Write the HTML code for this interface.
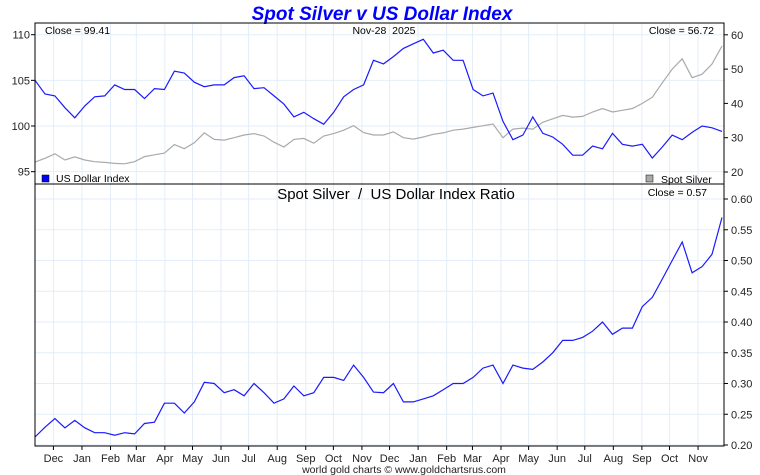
<!DOCTYPE html>
<html><head><meta charset="utf-8"><style>
body{margin:0;background:#fff;}
svg{display:block;font-family:"Liberation Sans",sans-serif;}
text{white-space:pre;}
</style></head><body>
<svg id="chart" width="760" height="475" viewBox="0 0 760 475">
<rect x="0" y="0" width="760" height="475" fill="#fff"/>
<text x="382" y="20" text-anchor="middle" font-size="19" font-weight="bold" font-style="italic" fill="#0000ff">Spot Silver v US Dollar Index</text>
<g id="grid"></g>
<g id="series"></g>
<rect x="35" y="23" width="689" height="161" fill="none" stroke="#000" stroke-width="1"/>
<rect x="35" y="184" width="689" height="262" fill="none" stroke="#000" stroke-width="1"/>
<g id="axes" font-size="11" fill="#222"></g>
<text x="45" y="34" font-size="10.5">Close = 99.41</text>
<text x="384" y="34" font-size="10.5" text-anchor="middle" xml:space="preserve">Nov-28  2025</text>
<text x="714" y="34" font-size="10.5" text-anchor="end">Close = 56.72</text>
<rect x="42" y="175" width="7" height="7" fill="#0000ff" stroke="#000" stroke-width="0.5"/>
<text x="56" y="182" font-size="10.5">US Dollar Index</text>
<rect x="646" y="175" width="7" height="7" fill="#aaa" stroke="#000" stroke-width="0.5"/>
<text x="661" y="183" font-size="10.5">Spot Silver</text>
<text x="396" y="199" font-size="15" text-anchor="middle" xml:space="preserve">Spot Silver  /  US Dollar Index Ratio</text>
<text x="707" y="196" font-size="10.5" text-anchor="end">Close = 0.57</text>
<text x="404" y="473" font-size="10.5" text-anchor="middle" fill="#222">world gold charts © www.goldchartsrus.com</text>
</svg>
<script>
const months=["Dec","Jan","Feb","Mar","Apr","May","Jun","Jul","Aug","Sep","Oct","Nov","Dec","Jan","Feb","Mar","Apr","May","Jun","Jul","Aug","Sep","Oct","Nov"];
const monthDays=[20,51,82,110,141,171,202,232,263,294,324,355,385,416,447,475,506,536,567,597,628,659,689,720];
const usdTicks=[110,105,100,95];
const silverTicks=[60,50,40,30,20];
const ratioTicks=[0.60,0.55,0.50,0.45,0.40,0.35,0.30,0.25,0.20];
const usd=[105,103.5,103.3,102,100.9,102.2,103.2,103.3,104.5,104,104,103,104.1,104,106,105.8,104.8,104.3,104.5,104.5,105.3,105.5,104.1,104.2,103.3,102.4,101,101.5,100.8,100.2,101.5,103.2,104,104.5,107.2,106.8,107.6,108.5,109,109.5,108,108.3,107.2,107.2,104,103.3,103.6,100.5,98.5,99,101,99.2,98.8,98,96.8,96.8,97.8,97.5,99.2,98,97.8,98,96.5,97.7,99,98.5,99.3,100,99.8,99.41];
const silver=[22.9,24,25.3,23.5,24.4,23.5,23,22.8,22.5,22.4,23,24.5,25,25.5,28,26.8,28.5,31.4,29.5,29.3,30,30.8,31.2,30.5,28.7,27.3,29.5,29.8,28.4,30.5,31.2,32.2,33.5,31.5,30.8,30.8,31.7,30,29.6,30.2,31,31.4,32.2,32.5,33,33.5,34,30,32.5,32.8,32.5,34.5,35.5,36.5,36,36.2,37.5,38.5,37.5,38,38.5,40,41.8,46,50,53,47.5,48.5,51.5,56.72];
const ratio=[0.213,0.229,0.243,0.228,0.24,0.228,0.22,0.22,0.216,0.22,0.218,0.235,0.237,0.268,0.268,0.252,0.27,0.302,0.3,0.285,0.29,0.28,0.3,0.285,0.268,0.275,0.296,0.28,0.285,0.31,0.31,0.305,0.33,0.31,0.286,0.285,0.3,0.27,0.27,0.275,0.28,0.29,0.3,0.3,0.31,0.325,0.33,0.3,0.33,0.325,0.323,0.335,0.35,0.37,0.37,0.375,0.385,0.4,0.38,0.39,0.39,0.425,0.44,0.47,0.5,0.53,0.48,0.49,0.51,0.57];

const NS="http://www.w3.org/2000/svg";
const X0=35,X1=722,TOTALDAYS=746;
const xIdx=i=>X0+i*(X1-X0)/(usd.length-1);
const xDay=d=>X0+d*(X1-X0)/TOTALDAYS;
const yUsd=v=>126-(v-100)*9.13;
const ySil=v=>172-(v-20)*3.43;
const yRat=v=>445-(v-0.2)*615;
function mk(tag,attrs,parent){const e=document.createElementNS(NS,tag);for(const k in attrs)e.setAttribute(k,attrs[k]);parent.appendChild(e);return e;}
const grid=document.getElementById('grid'),axes=document.getElementById('axes'),ser=document.getElementById('series');
monthDays.forEach((d,i)=>{
  const x=xDay(d);
  const g1=mk('line',{x1:x,x2:x,y1:23,y2:446,stroke:'#e3eef8','stroke-width':1},grid);
  
  
  const tk=mk('line',{x1:x,x2:x,y1:446,y2:450,stroke:'#000'},axes);
  
  
  const t=mk('text',{x:x,y:462,'text-anchor':'middle','font-size':11},axes);
  t.textContent=months[i];
  
  
});
usdTicks.forEach(v=>{
  const y=yUsd(v);
  const g=mk('line',{x1:35,x2:724,y1:y,y2:y,stroke:'#e3eef8'},grid);
  
  
  mk('line',{x1:31,x2:35,y1:y,y2:y,stroke:'#000'},axes);
  const t=mk('text',{x:30,y:y+4,'text-anchor':'end','font-size':11},axes);
  t.textContent=v;
  
  
});
silverTicks.forEach(v=>{
  const y=ySil(v);
  mk('line',{x1:724,x2:728,y1:y,y2:y,stroke:'#000'},axes);
  const t=mk('text',{x:731,y:y+4,'font-size':11},axes);
  t.textContent=v;
  
  
});
ratioTicks.forEach(v=>{
  const y=yRat(v);
  const g=mk('line',{x1:35,x2:724,y1:y,y2:y,stroke:'#e3eef8'},grid);
  
  
  mk('line',{x1:724,x2:728,y1:y,y2:y,stroke:'#000'},axes);
  const t=mk('text',{x:731,y:y+4,'font-size':11},axes);
  t.textContent=v.toFixed(2);
  
  
});
function line(arr,yf){return arr.map((v,i)=>(i?'L':'M')+xIdx(i).toFixed(1)+' '+yf(v).toFixed(1)).join(' ');}
const ps=mk('path',{d:line(silver,ySil),fill:'none',stroke:'#aaaaaa','stroke-width':1.2},ser);


const pu=mk('path',{d:line(usd,yUsd),fill:'none',stroke:'#1a1aff','stroke-width':1.2},ser);


const pr=mk('path',{d:line(ratio,yRat),fill:'none',stroke:'#1a1aff','stroke-width':1.2},ser);


</script>
</body></html>
